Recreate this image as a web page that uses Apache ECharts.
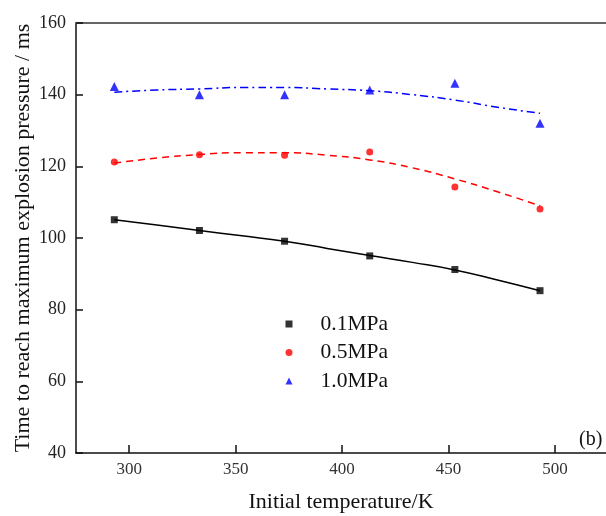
<!DOCTYPE html>
<html>
<head>
<meta charset="utf-8">
<script src="https://cdn.jsdelivr.net/npm/echarts@6/dist/echarts.min.js"></script>
<style>html,body{margin:0;padding:0;background:#fff;}#c{width:606px;height:516px;}</style>
</head>
<body>
<div id="c"></div>
<script>
// Data
const temps = [293, 333, 373, 413, 453, 493];
const p01 = [105.1, 102.1, 99.1, 95.0, 91.2, 85.3];
const p05 = [121.2, 123.2, 123.1, 124.0, 114.2, 108.1];
const p10 = [142.3, 140.0, 140.0, 141.3, 143.2, 132.0];
const fitTemps = [293, 313, 333, 353, 373, 393, 413, 433, 453, 473, 493];
const fit01 = [105.1, 103.6, 102.1, 100.6, 99.1, 97.1, 95.1, 93.2, 91.1, 88.3, 85.3];
const fit05 = [120.9, 122.3, 123.3, 123.8, 123.8, 123.1, 121.8, 119.6, 116.5, 112.9, 109.0];
const fit10 = [140.7, 141.3, 141.6, 142.0, 142.0, 141.6, 141.1, 140.0, 138.5, 136.5, 134.8];
const seriesNames = ['0.1MPa', '0.5MPa', '1.0MPa'];
const xTicks = [300, 350, 400, 450, 500];
const yMin = 40, yMax = 160, yStep = 20;

const pair = (xs, ys) => xs.map((x, i) => [x, ys[i]]);
const serif = 'Liberation Serif, Times New Roman, serif';

const chart = echarts.init(document.getElementById('c'), null, {renderer: 'canvas'});
chart.setOption({
  animation: false,
  backgroundColor: '#fff',
  grid: {left: 76, top: 23, right: 0, bottom: 63, outerBoundsMode: 'none', containLabel: false},
  legend: {
    orient: 'vertical', left: 280.5, top: 308,
    itemWidth: 7, itemHeight: 7, itemGap: 6.5,
    textStyle: {fontFamily: serif, fontSize: 21.5, color: '#111', padding: [0, 0, 0, 23]},
    data: [
      {name: seriesNames[0], icon: 'rect'},
      {name: seriesNames[1], icon: 'circle'},
      {name: seriesNames[2], icon: 'triangle'}
    ]
  },
  xAxis: [{
    type: 'value', min: 275, max: 524,
    name: 'Initial temperature/K', nameLocation: 'middle', nameGap: 38, nameMoveOverlap: false,
    nameTextStyle: {fontFamily: serif, fontSize: 22, color: '#111'},
    axisLine: {lineStyle: {color: '#111', width: 1.5}},
    axisTick: {inside: true, length: 8, customValues: xTicks, lineStyle: {color: '#111', width: 1.5}},
    axisLabel: {customValues: xTicks, fontFamily: serif, fontSize: 17, color: '#333', margin: 8},
    splitLine: {show: false}
  }, {
    type: 'value', position: 'top', min: 275, max: 524,
    axisLine: {lineStyle: {color: '#666', width: 2}},
    axisTick: {show: false}, axisLabel: {show: false}, splitLine: {show: false}
  }],
  yAxis: {
    type: 'value', min: yMin, max: yMax, interval: yStep,
    name: 'Time to reach maximum explosion pressure / ms', nameLocation: 'middle', nameGap: 42,
    nameMoveOverlap: false,
    nameTextStyle: {fontFamily: serif, fontSize: 22, color: '#111'},
    axisLine: {show: true, lineStyle: {color: '#111', width: 1.5}},
    axisTick: {show: true, inside: true, length: 7, lineStyle: {color: '#111', width: 1.5}},
    axisLabel: {fontFamily: serif, fontSize: 18, color: '#222', margin: 10},
    splitLine: {show: false}
  },
  graphic: [{
    type: 'text', left: 579, top: 430,
    style: {text: '(b)', font: '20px ' + serif, fill: '#111'}
  }],
  series: [
    {name: 'fit01', type: 'line', smooth: true, showSymbol: false, silent: true,
     data: pair(fitTemps, fit01), lineStyle: {color: '#000', width: 1.5, type: 'solid'}},
    {name: 'fit05', type: 'line', smooth: true, showSymbol: false, silent: true,
     data: pair(fitTemps, fit05), lineStyle: {color: '#ff0000', width: 1.5, type: [7, 5]}},
    {name: 'fit10', type: 'line', smooth: true, showSymbol: false, silent: true,
     data: pair(fitTemps, fit10), lineStyle: {color: '#0000ff', width: 1.5, type: [8, 4, 2, 4]}},
    {name: seriesNames[0], type: 'scatter', symbol: 'rect', symbolSize: 7,
     itemStyle: {color: '#000'}, data: pair(temps, p01)},
    {name: seriesNames[1], type: 'scatter', symbol: 'circle', symbolSize: 7,
     itemStyle: {color: '#ff0000'}, data: pair(temps, p05)},
    {name: seriesNames[2], type: 'scatter', symbol: 'triangle', symbolSize: 9,
     itemStyle: {color: '#0000ff'}, data: pair(temps, p10)}
  ]
});
</script>
</body>
</html>
